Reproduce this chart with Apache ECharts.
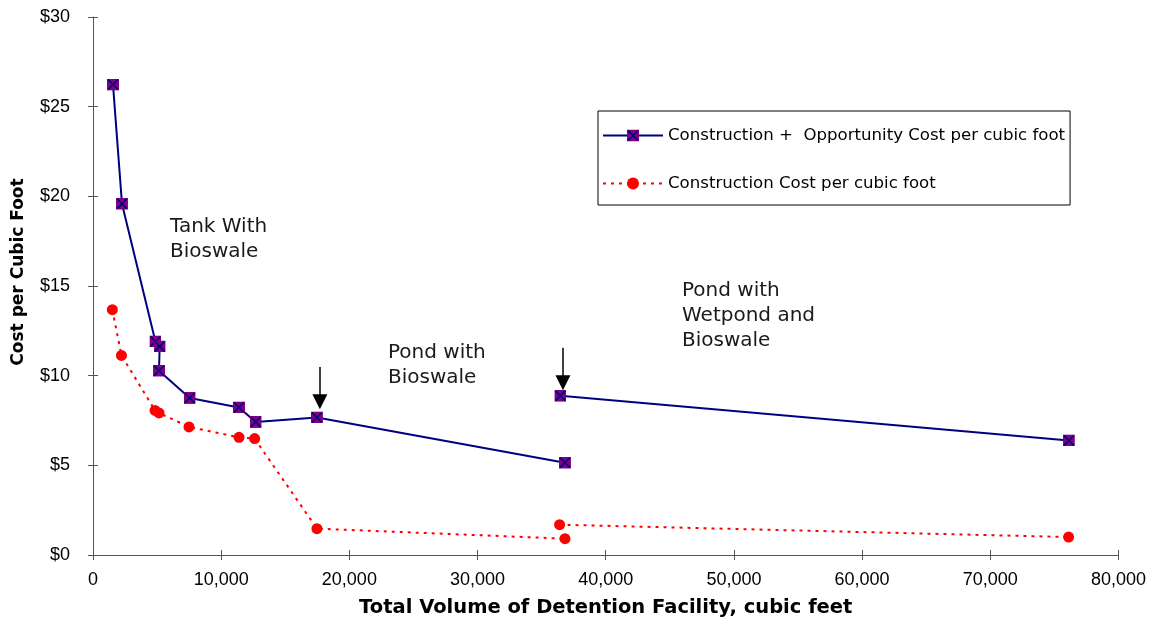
<!DOCTYPE html>
<html>
<head>
<meta charset="utf-8">
<script src="https://cdn.jsdelivr.net/npm/echarts@6/dist/echarts.min.js"></script>
<style>html,body{margin:0;padding:0;background:#fff}#c{width:1149px;height:626px}</style>
</head>
<body>
<div id="c"></div>
<script>
// ---- data ----
const seriesNames = ['Construction +  Opportunity Cost per cubic foot', 'Construction Cost per cubic foot'];
// Construction + Opportunity cost, first segment (tank / pond with bioswale)
const totalA_X = [1560, 2260, 4870, 5200, 5150, 7540, 11390, 12690, 17470, 36820];
const totalA_Y = [26.23, 19.59, 11.91, 11.63, 10.28, 8.76, 8.23, 7.42, 7.67, 5.15];
// Construction + Opportunity cost, second segment (pond with wetpond and bioswale)
const totalB_X = [36460, 76130];
const totalB_Y = [8.88, 6.39];
// Construction cost, first segment
const constA_X = [1510, 2220, 4840, 5150, 7490, 11390, 12610, 17470, 36820];
const constA_Y = [13.68, 11.13, 8.06, 7.92, 7.14, 6.56, 6.49, 1.47, 0.91];
// Construction cost, second segment
const constB_X = [36400, 76110];
const constB_Y = [1.69, 1.00];
// arrows (x, top value, head value)
const arrowX = [17700, 36660];
const arrowTop = [10.49, 11.55];
const arrowEnd = [8.55, 9.61];
// annotation texts
const annotations = ['Tank With\nBioswale', 'Pond with\nBioswale', 'Pond with\nWetpond and\nBioswale'];
// axis ticks
const xMin = 0, xMax = 80000, xStep = 10000;
const yMin = 0, yMax = 30, yStep = 5;

const zip = (xs, ys) => xs.map((x, i) => [x, ys[i]]);

const sq = "<svg xmlns='http://www.w3.org/2000/svg' width='22' height='22' viewBox='0 0 22 22'>" +
  "<rect x='0' y='0' width='22' height='22' fill='#800080'/>" +
  "<path d='M2 2L20 20M20 2L2 20' stroke='#000080' stroke-width='3'/></svg>";
const sqSymbol = 'image://data:image/svg+xml;charset=utf-8,' + encodeURIComponent(sq);

const TXT = "'DejaVu Sans', sans-serif";
const TICK = "'Liberation Sans', Arial, sans-serif";

const blueStyle = {
  type: 'line', symbol: sqSymbol, symbolSize: 12, showSymbol: true,
  lineStyle: { color: '#000080', width: 2 },
  itemStyle: { color: '#000080' },
  emphasis: { disabled: true }, animation: false, z: 3
};
const redStyle = {
  type: 'line', symbol: 'circle', symbolSize: 11, showSymbol: true,
  lineStyle: { color: '#ff0000', width: 2, type: [3, 5] },
  itemStyle: { color: '#ff0000' },
  emphasis: { disabled: true }, animation: false, z: 2
};

const arrowLines = arrowX.map((x, i) => [
  { coord: [x, arrowTop[i]], symbol: 'none' },
  { coord: [x, arrowEnd[i]], symbol: 'triangle', symbolSize: [15, 15] }
]);

const axisCommonX = { type: 'value', min: xMin, max: xMax, interval: xStep, splitLine: { show: false } };
const axisCommonY = { type: 'value', min: yMin, max: yMax, interval: yStep, splitLine: { show: false } };

const option = {
  backgroundColor: '#fff',
  animation: false,
  grid: { left: 93, right: 30, top: 17, bottom: 71 },
  xAxis: [
    Object.assign({}, axisCommonX, {
      position: 'bottom',
      name: 'Total Volume of Detention Facility, cubic feet',
      nameLocation: 'middle', nameGap: 43,
      nameTextStyle: { fontFamily: TXT, fontWeight: 'bold', fontSize: 19.5, color: '#000' },
      axisLine: { show: true, lineStyle: { color: '#555', width: 1 } },
      axisTick: { show: true, inside: false, length: 5, lineStyle: { color: '#555' } },
      axisLabel: { fontFamily: TICK, fontSize: 18, color: '#000', margin: 16,
        formatter: v => v.toLocaleString('en-US') }
    }),
    Object.assign({}, axisCommonX, {
      position: 'bottom', offset: 0,
      axisLine: { show: false },
      axisTick: { show: true, inside: true, length: 5, lineStyle: { color: '#555' } },
      axisLabel: { show: false }
    })
  ],
  yAxis: [
    Object.assign({}, axisCommonY, {
      position: 'left',
      name: 'Cost per Cubic Foot',
      nameLocation: 'middle', nameGap: 66,
      nameTextStyle: { fontFamily: TXT, fontWeight: 'bold', fontSize: 17, color: '#000', padding: [0, 0, 0, 28] },
      axisLine: { show: true, lineStyle: { color: '#555', width: 1 } },
      axisTick: { show: true, inside: false, length: 5, lineStyle: { color: '#555' } },
      axisLabel: { fontFamily: TICK, fontSize: 18, color: '#000', margin: 23,
        formatter: v => '$' + v }
    }),
    Object.assign({}, axisCommonY, {
      position: 'left', offset: 0,
      axisLine: { show: false },
      axisTick: { show: true, inside: true, length: 5, lineStyle: { color: '#555' } },
      axisLabel: { show: false }
    })
  ],
  legend: {
    orient: 'vertical', left: 598, top: 111,
    padding: [16, 5, 13, 4], itemGap: 31, itemWidth: 60, itemHeight: 15,
    borderColor: '#000', borderWidth: 1, backgroundColor: '#fff',
    textStyle: { fontFamily: TXT, fontSize: 16.6, color: '#000' },
    data: seriesNames,
    selectedMode: false
  },
  graphic: [
    { type: 'text', left: 170, top: 214, style: { text: annotations[0], font: "20px 'DejaVu Sans'", fill: '#1a1a1a', lineHeight: 25 } },
    { type: 'text', left: 388, top: 340, style: { text: annotations[1], font: "20px 'DejaVu Sans'", fill: '#1a1a1a', lineHeight: 25 } },
    { type: 'text', left: 682, top: 278, style: { text: annotations[2], font: "20px 'DejaVu Sans'", fill: '#1a1a1a', lineHeight: 25 } }
  ],
  series: [
    Object.assign({}, blueStyle, { name: seriesNames[0], data: zip(totalA_X, totalA_Y),
      markLine: { silent: true, animation: false, symbol: ['none', 'triangle'], label: { show: false },
        lineStyle: { color: '#000', width: 1.5, type: 'solid' }, itemStyle: { color: '#000' },
        emphasis: { disabled: true }, data: arrowLines } }),
    Object.assign({}, blueStyle, { name: seriesNames[0], data: zip(totalB_X, totalB_Y) }),
    Object.assign({}, redStyle, { name: seriesNames[1], data: zip(constA_X, constA_Y) }),
    Object.assign({}, redStyle, { name: seriesNames[1], data: zip(constB_X, constB_Y) })
  ]
};

const chart = echarts.init(document.getElementById('c'), null, { renderer: 'canvas' });
chart.setOption(option);
</script>
</body>
</html>
